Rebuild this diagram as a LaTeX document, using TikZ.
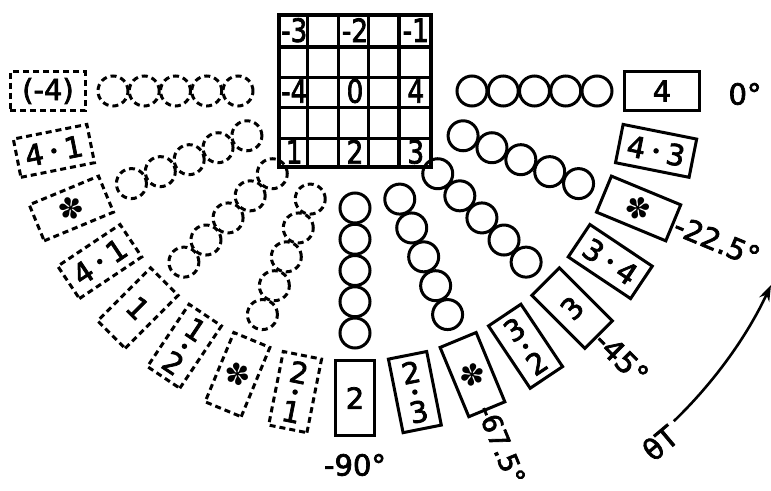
\documentclass[tikz,border=0pt]{standalone}
\usepackage{fontspec}
\setmainfont{DejaVu Sans}
\newfontfamily\lett{DejaVu Sans}[FakeBold=2.5]
\usetikzlibrary{calc,arrows.meta}
\begin{document}
\begin{tikzpicture}[x=1pt,y=1pt,
  ring/.style={circle, draw, line width=3pt, minimum size=30pt, inner sep=0pt},
  dring/.style={ring, dash pattern=on 6pt off 4pt},
  tag/.style={draw, line width=3pt, minimum width=75pt, minimum height=39pt, inner sep=0pt},
  dtag/.style={tag, dash pattern=on 6pt off 4pt},
  lbl/.style={font=\lett\fontsize{29}{30}\selectfont, inner sep=0pt},
  glbl/.style={font=\lett\fontsize{32}{32}\selectfont, inner sep=0pt},
  star/.style={font=\fontsize{30}{30}\selectfont, inner sep=0pt},
  pip/.style={circle, fill, minimum size=5.5pt, inner sep=0pt},
  gline/.style={line width=3.2pt}]
\useasboundingbox (-355,-399) rectangle (416,91);

% grid
\node[draw, gline, minimum size=152pt, inner sep=0pt] (grid) at (0,0) {};
\foreach \k in {1,...,4} {
  \draw[gline] ($(grid.south west)+(30.4*\k,0)$) -- ($(grid.north west)+(30.4*\k,0)$);
  \draw[gline] ($(grid.south west)+(0,30.4*\k)$) -- ($(grid.south east)+(0,30.4*\k)$);
}
\foreach \c/\r/\t [count=\i] in {0/0/-3,2/0/-2,4/0/-1,0/2/-4,2/2/0,4/2/4,0/4/1,2/4/2,4/4/3}
  \node[glbl] (g\i) at ({-60.8+30.4*\c},{60.8-30.4*\r}) {\scalebox{0.82}[1]{\t}};

% rows of circles
\foreach \a/\s [count=\i] in {0/ring,-22.5/ring,-45/ring,-67.5/ring,-90/ring,-112.5/dring,-135/dring,-157.5/dring,-180/dring}
  \foreach \k in {0,...,4}
    \node[\s] (c\i-\k) at (\a:{117+31.25*\k}) {};

% boxes
\foreach \a/\s [count=\i] in {0/tag,-11.25/tag,-22.5/tag,-33.75/tag,-45/tag,-56.25/tag,-67.5/tag,-78.75/tag,-90/tag,-101.25/dtag,-112.5/dtag,-123.75/dtag,-135/dtag,-146.25/dtag,-157.5/dtag,-168.75/dtag,-180/dtag}
  \node[\s, rotate=\a] (b\i) at (\a:307) {};

% single texts
\node[lbl] (t1) at (b1) {4};
\node[lbl, rotate=45] (t5) at (b5) {3};
\node[lbl] (t9) at (b9) {2};
\node[lbl, rotate=-45] (t13) at (b13) {1};
\node[lbl] (t17) at (b17) {(-4)};
\foreach \n/\a in {3/-22.5,7/-67.5,11/-112.5,15/-157.5}
  \node[star, rotate=\a] (s\n) at (b\n) {✽};

% two-figure texts
\foreach \a/\n/\p/\q/\r in {-11.25/2/4/3/-11.25, -33.75/4/3/4/-33.75, -56.25/6/3/2/33.75, -78.75/8/2/3/11.25, -101.25/10/2/1/-11.25, -123.75/12/1/2/-33.75, -146.25/14/1/4/33.75, -168.75/16/1/4/11.25} {
  \node[lbl, rotate=\r] (p\n) at (\a:{307-20}) {\p};
  \node[pip] (d\n) at (\a:307) {};
  \node[lbl, rotate=\r] (q\n) at (\a:{307+20}) {\q};
}

% angle labels
\node[lbl] (l0) at (390,-3) {0°};
\node[lbl, rotate=-22.5, anchor=west] (l1) at (-22.5:347) {-22.5°};
\node[lbl, rotate=-45, anchor=west] (l2) at (-45:346) {-45°};
\node[lbl, rotate=-67.5, anchor=west, font=\lett\fontsize{27}{28}\selectfont] (l3) at (-67.5:341) {-67.5°};
\node[lbl] (l4) at (-90:374) {-90°};

% theta_T arrow
\coordinate (a0) at (-46:459);
\draw[line width=2.6pt, -{Stealth[length=16pt,width=11pt]}] (a0) arc[start angle=-46, end angle=-25, radius=459];
\node[lbl, rotate=40] (theta) at (305,-352) {θT};
\end{tikzpicture}
\end{document}
